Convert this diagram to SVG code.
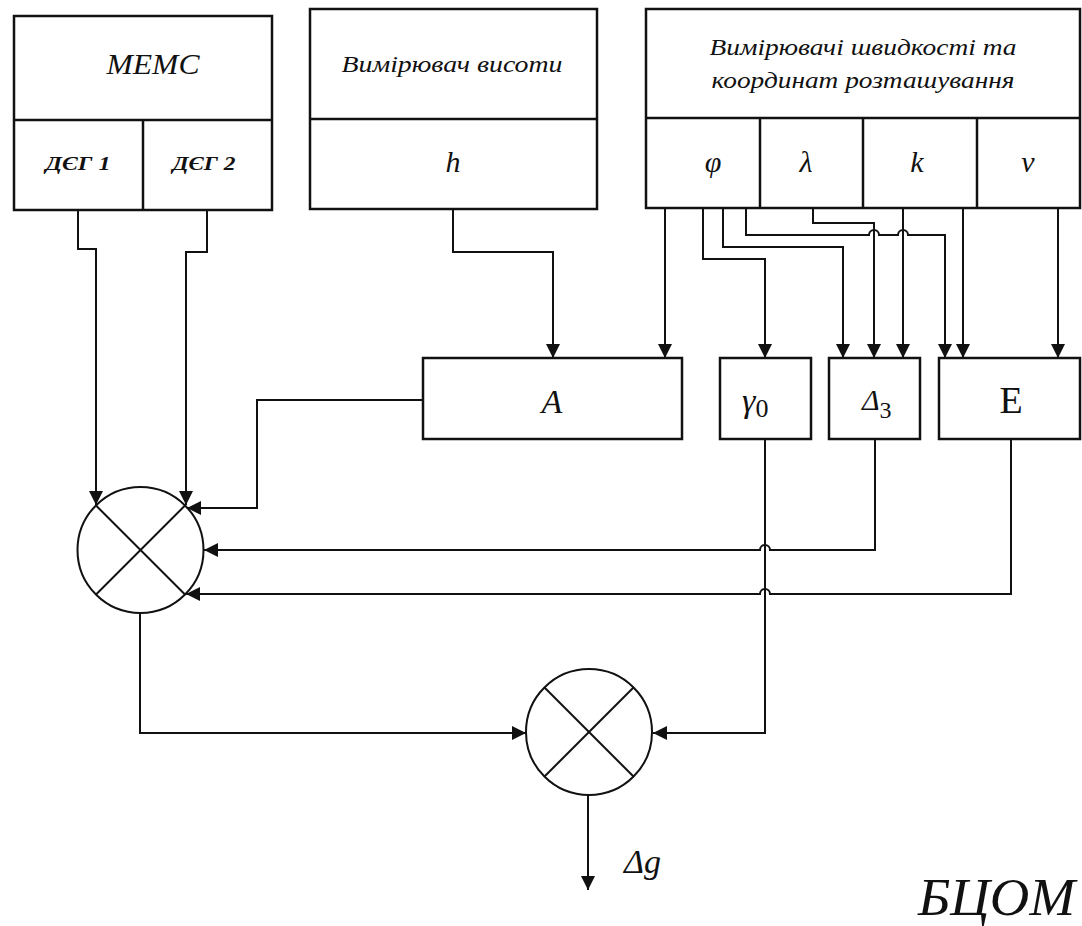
<svg xmlns="http://www.w3.org/2000/svg" width="1082" height="926" viewBox="0 0 1082 926">
<defs>
<marker id="ah" markerUnits="userSpaceOnUse" markerWidth="15" markerHeight="15" refX="14" refY="7" orient="auto">
<path d="M0,0 L14,7 L0,14 z" fill="#111"/>
</marker>
<style>
.box{fill:#fff;stroke:#111;stroke-width:2.5}
.ln{fill:none;stroke:#111;stroke-width:2}
.ar{fill:none;stroke:#111;stroke-width:2;marker-end:url(#ah)}
.sum{fill:#fff;stroke:#111;stroke-width:2}
text{fill:#111}
</style>
</defs>
<rect width="1082" height="926" fill="#fff"/>

<g id="mems" font-family="Liberation Serif, DejaVu Serif, serif" font-style="italic">
<rect class="box" x="14" y="16" width="258" height="194"/>
<line class="ln" x1="14" y1="120" x2="272" y2="120" style="stroke-width:2.5"/>
<line class="ln" x1="143" y1="120" x2="143" y2="210" style="stroke-width:2.5"/>
<text x="153" y="74" font-size="30" text-anchor="middle" textLength="93" lengthAdjust="spacingAndGlyphs">MEMC</text>
<text x="78" y="170" font-size="19" font-weight="bold" text-anchor="middle" textLength="65" lengthAdjust="spacingAndGlyphs">ДЄГ 1</text>
<text x="204" y="170" font-size="19" font-weight="bold" text-anchor="middle" textLength="63" lengthAdjust="spacingAndGlyphs">ДЄГ 2</text>
</g>

<g id="altimeter" font-family="Liberation Serif, DejaVu Serif, serif" font-style="italic">
<rect class="box" x="310" y="9" width="287" height="200"/>
<line class="ln" x1="310" y1="119" x2="597" y2="119" style="stroke-width:2.5"/>
<text x="452" y="72" font-size="24" text-anchor="middle" textLength="221" lengthAdjust="spacingAndGlyphs">Вимірювач висоти</text>
<text x="453" y="172" font-size="30" text-anchor="middle">h</text>
</g>

<g id="velocity" font-family="Liberation Serif, DejaVu Serif, serif" font-style="italic">
<rect class="box" x="646" y="9" width="434" height="199"/>
<line class="ln" x1="646" y1="118" x2="1080" y2="118" style="stroke-width:2.5"/>
<line class="ln" x1="760" y1="118" x2="760" y2="208" style="stroke-width:2.5"/>
<line class="ln" x1="863" y1="118" x2="863" y2="208" style="stroke-width:2.5"/>
<line class="ln" x1="977" y1="118" x2="977" y2="208" style="stroke-width:2.5"/>
<text x="863" y="55" font-size="24" text-anchor="middle" textLength="307" lengthAdjust="spacingAndGlyphs">Вимірювачі швидкості та</text>
<text x="863" y="88" font-size="24" text-anchor="middle" textLength="303" lengthAdjust="spacingAndGlyphs">координат розташування</text>
<text x="713" y="172" font-size="30" text-anchor="middle">φ</text>
<text x="806" y="172" font-size="30" text-anchor="middle">λ</text>
<text x="917" y="172" font-size="30" text-anchor="middle">k</text>
<text x="1028" y="172" font-size="30" text-anchor="middle">ν</text>
</g>

<g id="blockA" font-family="Liberation Serif, DejaVu Serif, serif" font-style="italic">
<rect class="box" x="423" y="358" width="259" height="81"/>
<text x="552" y="413" font-size="34" text-anchor="middle">A</text>
</g>

<g id="gamma0" font-family="Liberation Serif, DejaVu Serif, serif">
<rect class="box" x="720" y="358" width="91" height="81"/>
<text x="742" y="412" font-size="34"><tspan font-style="italic">γ</tspan><tspan font-size="26" dy="5">0</tspan></text>
</g>

<g id="delta3" font-family="Liberation Serif, DejaVu Serif, serif">
<rect class="box" x="829" y="358" width="91" height="81"/>
<text x="862" y="410" font-size="30"><tspan font-style="italic">Δ</tspan><tspan font-size="24" dy="8">3</tspan></text>
</g>

<g id="blockE" font-family="Liberation Serif, DejaVu Serif, serif">
<rect class="box" x="939" y="358" width="141" height="81"/>
<text x="1011" y="413" font-size="38" text-anchor="middle">E</text>
</g>

<g id="sum1">
<circle class="sum" cx="140.5" cy="550" r="63"/>
<line class="ln" x1="96" y1="505.5" x2="185" y2="594.5"/>
<line class="ln" x1="185" y1="505.5" x2="96" y2="594.5"/>
</g>

<g id="sum2">
<circle class="sum" cx="589" cy="732" r="63"/>
<line class="ln" x1="544.5" y1="687.5" x2="633.5" y2="776.5"/>
<line class="ln" x1="633.5" y1="687.5" x2="544.5" y2="776.5"/>
</g>

<g id="connectors">
<path class="ar" d="M78,210 V249 H96 V505"/>
<path class="ar" d="M207,210 V252 H186 V505"/>
<path class="ar" d="M453,209 V252 H553 V358"/>
<path class="ar" d="M665,208 V358"/>
<path class="ar" d="M703,208 V259 H765 V358"/>
<path class="ar" d="M723,208 V247 H843 V358"/>
<path class="ar" d="M746,208 V235 H869 A5,5 0 0 1 879,235 H898 A5,5 0 0 1 908,235 H945 V358"/>
<path class="ar" d="M813,208 V223 H874 V358"/>
<path class="ar" d="M903,208 V358"/>
<path class="ar" d="M963,208 V358"/>
<path class="ar" d="M1058,208 V358"/>
<path class="ar" d="M423,400 H257 V508 H187"/>
<path class="ar" d="M875,439 V550 H770 A5,5 0 0 0 760,550 H204"/>
<path class="ar" d="M1011,439 V594 H770 A5,5 0 0 0 760,594 H186"/>
<path class="ar" d="M765,439 V733 H653"/>
<path class="ar" d="M140,613 V733 H526"/>
<path class="ar" d="M588,795 V890"/>
</g>

<g id="labels" font-family="Liberation Serif, DejaVu Serif, serif" font-style="italic">
<text x="624" y="873" font-size="34">Δg</text>
<text x="918" y="915" font-size="52" textLength="157" lengthAdjust="spacingAndGlyphs">БЦОМ</text>
</g>
</svg>
